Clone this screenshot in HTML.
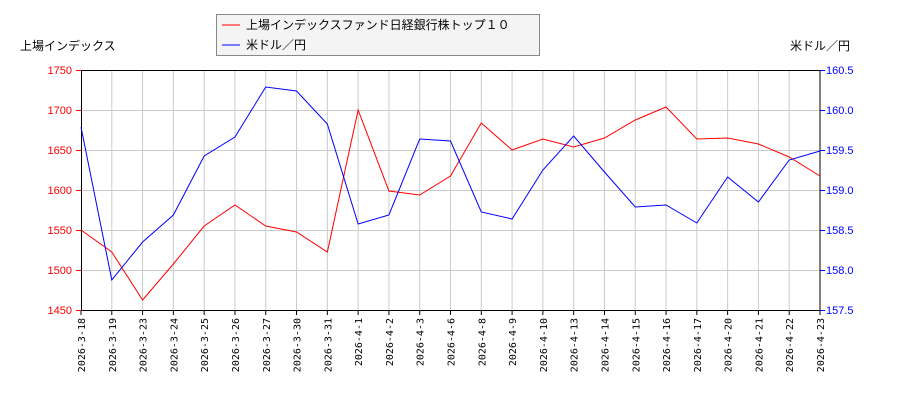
<!DOCTYPE html>
<html><head><meta charset="utf-8"><style>
body{margin:0;background:#fff;}
svg text{font-family:"Liberation Sans","Noto Sans CJK JP",sans-serif;}
svg #xl text{font-family:"DejaVu Sans Mono","Liberation Mono",monospace;}
</style></head><body>
<svg width="900" height="400" xmlns="http://www.w3.org/2000/svg">
<rect width="900" height="400" fill="#fff"/>
<g stroke="#ccc" stroke-width="1">
<line x1="81" y1="110.5" x2="820" y2="110.5"/><line x1="81" y1="150.5" x2="820" y2="150.5"/>
<line x1="81" y1="190.5" x2="820" y2="190.5"/><line x1="81" y1="230.5" x2="820" y2="230.5"/>
<line x1="81" y1="270.5" x2="820" y2="270.5"/>
</g>
<g id="vg" stroke="#ccc"></g>
<rect x="81.5" y="70.5" width="738.5" height="240" fill="none" stroke="#000"/>
<g font-size="11" fill="#f00" text-anchor="end">
<text x="72" y="74">1750</text><text x="72" y="114">1700</text><text x="72" y="154">1650</text>
<text x="72" y="194">1600</text><text x="72" y="234">1550</text><text x="72" y="274">1500</text><text x="72" y="314">1450</text>
</g>
<g font-size="11" fill="#00f">
<text x="826" y="74">160.5</text><text x="826" y="114">160.0</text><text x="826" y="154">159.5</text>
<text x="826" y="194">159.0</text><text x="826" y="234">158.5</text><text x="826" y="274">158.0</text><text x="826" y="314">157.5</text>
</g>
<g stroke="#f00"><line x1="76" y1="70.5" x2="81" y2="70.5"/><line x1="76" y1="110.5" x2="81" y2="110.5"/><line x1="76" y1="150.5" x2="81" y2="150.5"/><line x1="76" y1="190.5" x2="81" y2="190.5"/><line x1="76" y1="230.5" x2="81" y2="230.5"/><line x1="76" y1="270.5" x2="81" y2="270.5"/><line x1="76" y1="310.5" x2="81" y2="310.5"/></g>
<g stroke="#00f"><line x1="820" y1="70.5" x2="825" y2="70.5"/><line x1="820" y1="110.5" x2="825" y2="110.5"/><line x1="820" y1="150.5" x2="825" y2="150.5"/><line x1="820" y1="190.5" x2="825" y2="190.5"/><line x1="820" y1="230.5" x2="825" y2="230.5"/><line x1="820" y1="270.5" x2="825" y2="270.5"/><line x1="820" y1="310.5" x2="825" y2="310.5"/></g>
<text x="20" y="50" font-size="12">上場インデックス</text>
<text x="790" y="50" font-size="12">米ドル／円</text>
<rect x="216.5" y="14.5" width="323" height="41" fill="#f4f4f4" stroke="#888"/>
<line x1="222" y1="25" x2="240" y2="25" stroke="#f00"/>
<line x1="222" y1="45" x2="240" y2="45" stroke="#00f"/>
<text x="246" y="29" font-size="12">上場インデックスファンド日経銀行株トップ１０</text>
<text x="246" y="49" font-size="12">米ドル／円</text>
<g id="xl" font-size="10"></g>
<polyline id="red" fill="none" stroke="#f00" stroke-width="1"/>
<polyline id="blue" fill="none" stroke="#00f" stroke-width="1"/>
<script>
var L=["2026-3-18","2026-3-19","2026-3-23","2026-3-24","2026-3-25","2026-3-26","2026-3-27","2026-3-30","2026-3-31","2026-4-1","2026-4-2","2026-4-3","2026-4-6","2026-4-8","2026-4-9","2026-4-10","2026-4-13","2026-4-14","2026-4-15","2026-4-16","2026-4-17","2026-4-20","2026-4-21","2026-4-22","2026-4-23"];
var R=[230,252,300,264,226,205,226,232,252,110,191,195,176,123,150,139,147,138,120,107,139,138,144,157,176];
var B=[127,280,242,215,156,137,87,91,124,224,215,139,141,212,219,170,136,172,207,205,223,177,202,160,151];
var ns="http://www.w3.org/2000/svg",vg=document.getElementById("vg"),xl=document.getElementById("xl");
var rp=[],bp=[];
for(var i=0;i<25;i++){var x=81+i*739/24;
if(i>0&&i<24){var l=document.createElementNS(ns,"line");l.setAttribute("x1",x);l.setAttribute("x2",x);l.setAttribute("y1",70);l.setAttribute("y2",310);vg.appendChild(l);}
var t=document.createElementNS(ns,"line");t.setAttribute("x1",x);t.setAttribute("x2",x);t.setAttribute("y1",310);t.setAttribute("y2",315);t.setAttribute("stroke","#000");vg.appendChild(t);
var tx=document.createElementNS(ns,"text");tx.setAttribute("transform","translate("+(x+4)+",318) rotate(-90)");tx.setAttribute("text-anchor","end");tx.textContent=L[i];xl.appendChild(tx);
rp.push(x+","+R[i]);bp.push(x+","+B[i]);}
document.getElementById("red").setAttribute("points",rp.join(" "));
document.getElementById("blue").setAttribute("points",bp.join(" "));
</script>
</svg>
</body></html>
